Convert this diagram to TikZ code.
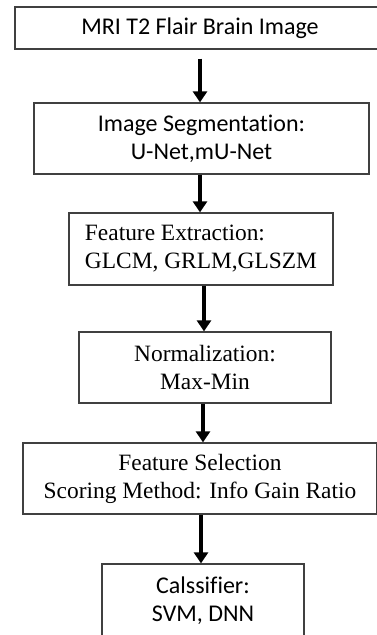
\documentclass[tikz,border=0pt]{standalone}
\usepackage{fontspec}
\setmainfont{Liberation Serif}
\newfontfamily\calfont[Ligatures=NoCommon]{Carlito}
\usetikzlibrary{arrows.meta}
\begin{document}
\begin{tikzpicture}[x=1pt,y=1pt,
  box/.style={draw=black!75, line width=1.3pt, inner sep=0pt, fill=white},
  cal/.style={font=\calfont\fontsize{24}{28}\selectfont, align=center},
  tms/.style={font=\fontsize{23.4}{28}\selectfont, align=center},
  arr/.style={line width=3.6pt, -{Triangle[width=14pt,length=11pt]}}]
\useasboundingbox (0,0) rectangle (376,-635);
\node[box,cal,minimum width=370pt,minimum height=42pt] (b1) at (200,-28) {MRI T2 Flair Brain Image};
\node[box,cal,minimum width=335pt,minimum height=71pt] (b2) at (201.5,-138.5) {Image Segmentation:\\U-Net,mU-Net};
\node[box,tms,align=left,minimum width=264pt,minimum height=72pt] (b3) at (201,-249) {Feature Extraction:\\GLCM, GRLM,GLSZM};
\node[box,tms,minimum width=252pt,minimum height=71pt] (b4) at (205,-367.5) {Normalization:\\Max-Min};
\node[box,tms,minimum width=354pt,minimum height=71pt] (b5) at (200,-478.5) {Feature Selection\\Scoring Method: Info Gain Ratio};
\node[box,cal,minimum width=202pt,minimum height=74pt] (b6) at (203,-601) {Calssifier:\\SVM, DNN};
\draw[arr] ([yshift=-9pt]b1.south) -- (b1.south |- b2.north);
\draw[arr] (b2.south -| b1.south) -- (b1.south |- b3.north);
\draw[arr] ([xshift=3pt]b3.south) -- ([xshift=3pt]b3.south |- b4.north);
\draw[arr] ([xshift=-2pt]b4.south) -- ([xshift=-2pt]b4.south |- b5.north);
\draw[arr] ([xshift=1pt]b5.south) -- ([xshift=1pt]b5.south |- b6.north);
\end{tikzpicture}
\end{document}
